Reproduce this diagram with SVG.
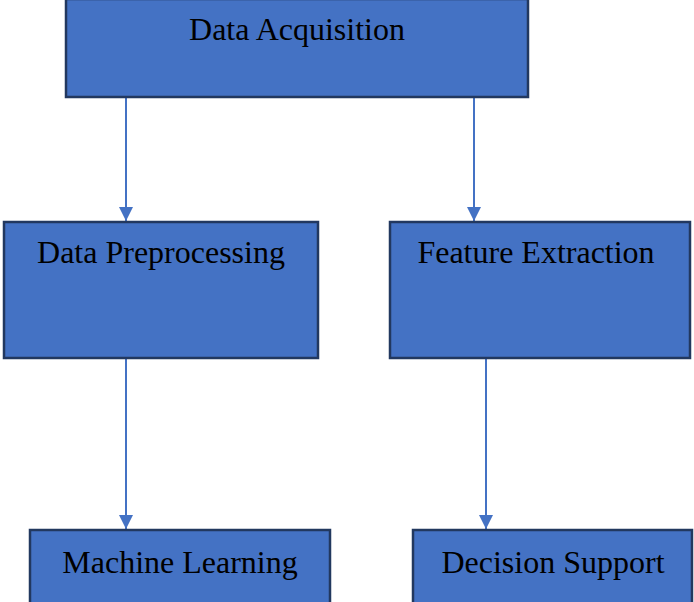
<svg xmlns="http://www.w3.org/2000/svg" width="694" height="602" viewBox="0 0 694 602">
<defs>
<style>
.box{fill:#4472C4;stroke:#22385F;stroke-width:2.5}
.lbl{font-family:"Liberation Serif","Times New Roman",serif;font-size:32px;fill:#000;text-anchor:middle}
.edge{stroke:#4472C4;stroke-width:2;fill:none;marker-end:url(#arr)}
</style>
<marker id="arr" markerWidth="14" markerHeight="14" refX="14" refY="7" orient="auto" markerUnits="userSpaceOnUse">
<path d="M0,0 L14,7 L0,14 Z" fill="#4472C4"/>
</marker>
</defs>
<g id="connectors">
<line class="edge" x1="126" y1="97" x2="126" y2="221"/>
<line class="edge" x1="474" y1="97" x2="474" y2="221"/>
<line class="edge" x1="126" y1="358" x2="126" y2="529"/>
<line class="edge" x1="486" y1="358" x2="486" y2="529"/>
</g>
<g id="data-acquisition">
<rect class="box" x="66" y="-1" width="462" height="98"/>
<text class="lbl" x="297" y="40">Data Acquisition</text>
</g>
<g id="data-preprocessing">
<rect class="box" x="4" y="222" width="314" height="136"/>
<text class="lbl" x="161" y="263">Data Preprocessing</text>
</g>
<g id="feature-extraction">
<rect class="box" x="390" y="222" width="300" height="136"/>
<text class="lbl" x="536" y="263">Feature Extraction</text>
</g>
<g id="machine-learning">
<rect class="box" x="30" y="530" width="300" height="75"/>
<text class="lbl" x="180" y="573">Machine Learning</text>
</g>
<g id="decision-support">
<rect class="box" x="413" y="530" width="279" height="75"/>
<text class="lbl" x="553" y="573">Decision Support</text>
</g>
</svg>
